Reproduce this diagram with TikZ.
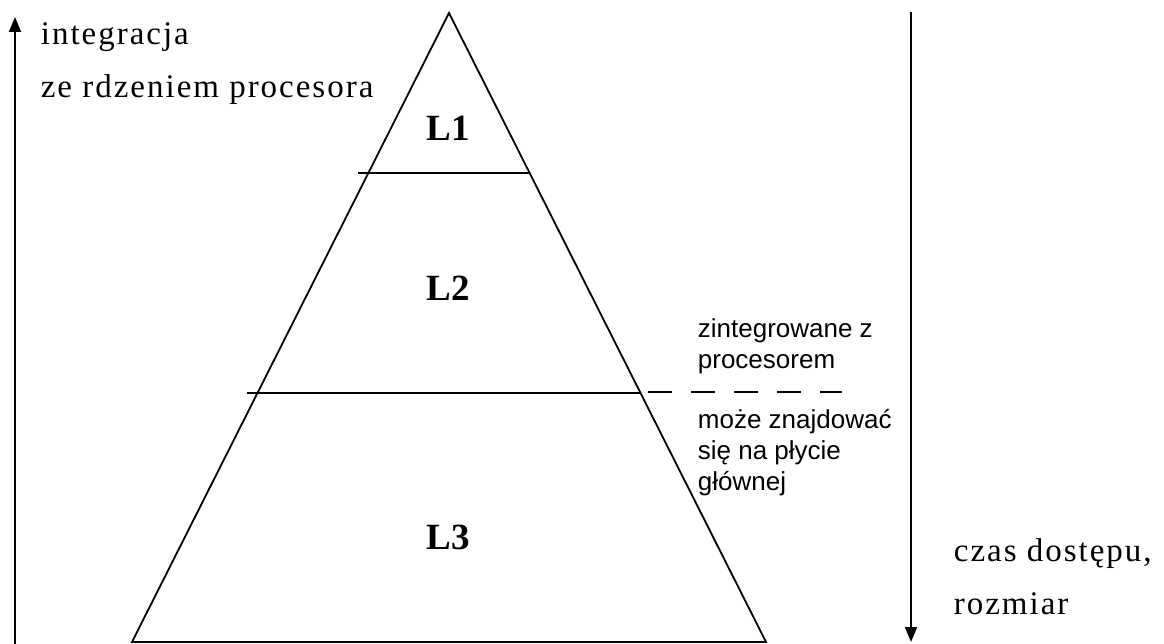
\documentclass[tikz,border=0pt]{standalone}
\usepackage{fontspec}
\setmainfont{Liberation Serif}
\newfontfamily\notefont{Liberation Sans}
\newfontfamily\axisfont[LetterSpace=6]{Liberation Serif}
\usetikzlibrary{arrows.meta}

\begin{document}
\begin{tikzpicture}[x=1pt, y=-1pt, line width=1.8pt,
    >={Triangle[length=15pt,width=12pt]},
    level/.style={font=\fontsize{37}{40}\selectfont\bfseries, inner sep=0pt},
    axislabel/.style={font=\axisfont\fontsize{33}{53}\selectfont, align=left, anchor=north west, inner sep=0pt},
    note/.style={font=\notefont\fontsize{26}{31}\selectfont, align=left, anchor=north west, inner sep=0pt}]
  \useasboundingbox (0,0) rectangle (1164,644);

  % Draw pyramid
  \coordinate (apex) at (449,13);
  \coordinate (baseL) at (132,642);
  \coordinate (baseR) at (766,642);
  \draw (apex) -- (baseL) -- (baseR) -- cycle;

  % Level borders
  \coordinate (b1L) at (358,173);
  \coordinate (b1R) at (530,173);
  \coordinate (b2L) at (247,393);
  \coordinate (b2R) at (640,393);
  \coordinate (d1) at (648,392);
  \coordinate (d2) at (842,392);
  \draw (b1L) -- (b1R);
  \draw (b2L) -- (b2R);
  \draw[dash pattern=on 24pt off 19pt] (d1) -- (d2);

  % Level labels
  \node[level] (L1) at (448,128) {L1};
  \node[level] (L2) at (448,288) {L2};
  \node[level] (L3) at (448,537) {L3};

  % Draw axes
  \coordinate (upS) at (15,644);
  \coordinate (upE) at (15,17);
  \coordinate (downS) at (911,12);
  \coordinate (downE) at (911,642);
  \draw[->] (upS) -- (upE);
  \draw[->] (downS) -- (downE);

  % Axis labels
  \node[axislabel] (integ) at (40,22) {integracja\\ze rdzeniem procesora};
  \node[axislabel] (czas) at (953,538) {czas dostępu,\\rozmiar};

  % Notes at the dashed border
  \node[note] (inproc) at (697,318) {zintegrowane z\\procesorem};
  \node[note] (onboard) at (697,408) {może znajdować\\się na płycie\\głównej};
\end{tikzpicture}
\end{document}
